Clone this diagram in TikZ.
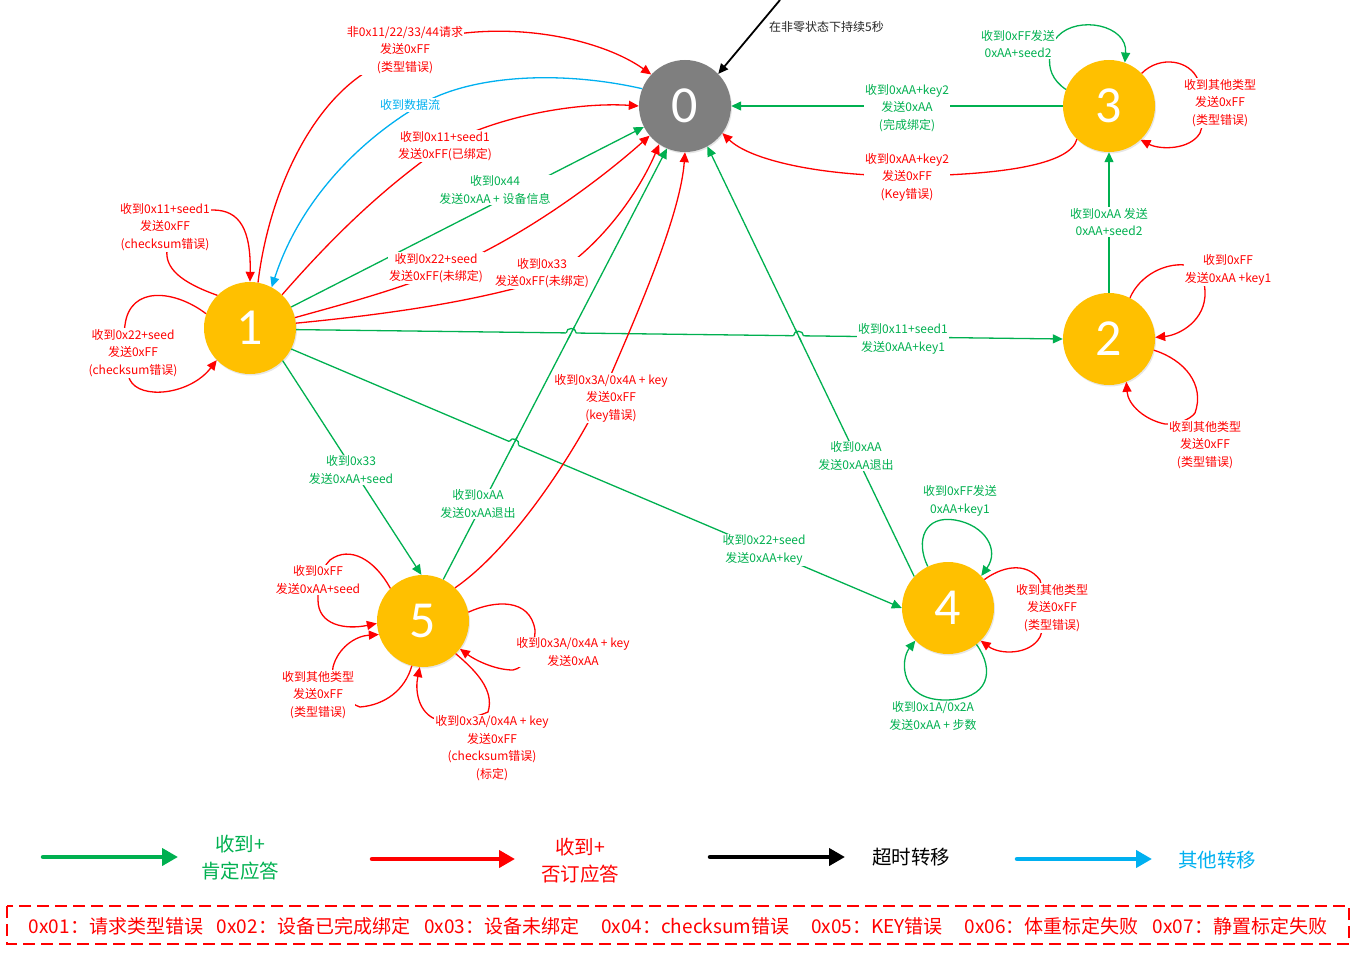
\documentclass[tikz,border=0pt]{standalone}
\usepackage{fontspec}
\setmainfont{Noto Sans CJK SC}
\newfontfamily\numfont{Carlito}
\usetikzlibrary{arrows.meta,shadows,calc,intersections}

\definecolor{cgreen}{RGB}{0,176,80}
\definecolor{cred}{RGB}{255,0,0}
\definecolor{cblue}{RGB}{0,176,240}
\definecolor{cgold}{RGB}{255,192,0}
\definecolor{cgrey}{RGB}{127,127,127}

\begin{document}
\begin{tikzpicture}[
    x=1pt, y=-1pt,
    statenode/.style={circle, fill=cgold, minimum size=92pt, inner sep=0pt, text=white,
        font=\numfont\fontsize{52}{52}\selectfont,
        drop shadow={shadow xshift=1pt, shadow yshift=-1.5pt, opacity=0.2}},
    idlenode/.style={statenode, fill=cgrey},
    okline/.style={draw=cgreen, line width=1.3pt, -{Triangle[length=10pt,width=9pt]}},
    ngline/.style={okline, draw=cred},
    otherline/.style={okline, draw=cblue},
    tmoline/.style={okline, draw=black, line width=1.8pt},
    hopline/.style={draw=cgreen, line width=1.3pt},
    oktext/.style={text=cgreen, font=\fontsize{12}{17.5}\selectfont, align=center, fill=white, inner sep=1pt},
    ngtext/.style={oktext, text=cred},
    legline/.style={line width=4.5pt, line cap=round, -{Triangle[length=16pt,width=17pt]}},
    legtext/.style={font=\fontsize{19.5}{27}\selectfont, align=center},
    ]

\useasboundingbox (0,0) rectangle (1355,955);

% States
\node[idlenode] (n0) at (685,106) {0};
\node[statenode] (n1) at (250,328) {1};
\node[statenode] (n2) at (1109,339) {2};
\node[statenode] (n3) at (1109,106) {3};
\node[statenode] (n4) at (948,608) {4};
\node[statenode] (n5) at (423,621) {5};

% From state 1 into state 0
\draw[ngline] (n1.80) .. controls (268,200) and (305,115) .. (360,76) .. controls (390,55) and (430,38) .. (465,33) .. controls (540,25) and (610,45) .. (n0.137);
\draw[otherline] (n0.158) .. controls (560,70) and (470,75) .. (420,105) .. controls (360,140) and (300,200) .. (n1.62);
\draw[ngline] (n1.46) .. controls (330,240) and (380,190) .. (445,145) .. controls (500,115) and (580,102) .. (n0.180);
\draw[okline] (n1.27) -- (n0.207);
\draw[ngline] (n1.13) .. controls (340,305) and (390,292) .. (440,272) .. controls (520,240) and (600,180) .. (n0.220);
\draw[ngline] (n1.6) .. controls (380,315) and (470,303) .. (545,280) .. controls (600,250) and (640,190) .. (n0.236);

% From state 1 to the others
\draw[okline, name path=e12] (n1.-2) -- (n2.180);
\draw[okline, name path=e14] (n1.-27) -- (n4.180);
\draw[okline] (n1.-45) -- (n5.92);

% Back to state 0
\draw[okline, name path=e50] (n5.64) -- (n0.247);
\draw[ngline] (n5.46) .. controls (510,550) and (570,460) .. (600,400) .. controls (630,330) and (680,220) .. (n0.270);
\draw[okline, name path=e40] (n4.137) -- (n0.299);
\draw[okline] (n3.180) -- (n0.0);
\draw[ngline] (n3.226) .. controls (1070,165) and (1000,175) .. (907,176) .. controls (820,176) and (750,160) .. (n0.324);
\coordinate (tmo) at (780,0);
\draw[tmoline] (tmo) -- (n0.44);
\draw[okline] (n2.90) -- (n3.270);

% Line hops
\path[name intersections={of=e12 and e50, by=j1}];
\path[name intersections={of=e12 and e40, by=j2}];
\path[name intersections={of=e14 and e50, by=j3}];
\draw[white, line width=3pt] ($(j1)!5pt!(n1.-2)$) -- ($(j1)!5pt!(n2.180)$);
\draw[white, line width=3pt] ($(j2)!5pt!(n1.-2)$) -- ($(j2)!5pt!(n2.180)$);
\draw[white, line width=3pt] ($(j3)!5pt!(n1.-27)$) -- ($(j3)!5pt!(n4.180)$);
\draw[hopline] ($(j1)!7pt!(n5.64)$) -- ($(j1)!7pt!(n0.247)$);
\draw[hopline] ($(j2)!7pt!(n4.137)$) -- ($(j2)!7pt!(n0.299)$);
\draw[hopline] ($(j3)!7pt!(n5.64)$) -- ($(j3)!7pt!(n0.247)$);
\draw[hopline] ($(j1)!5pt!(n1.-2)$) .. controls +(0,-6) and +(0,-6) .. ($(j1)!5pt!(n2.180)$);
\draw[hopline] ($(j2)!5pt!(n1.-2)$) .. controls +(0,-6) and +(0,-6) .. ($(j2)!5pt!(n2.180)$);
\draw[hopline] ($(j3)!5pt!(n1.-27)$) .. controls +(2.3,-5.5) and +(2.3,-5.5) .. ($(j3)!5pt!(n4.180)$);

% Self loops
\draw[ngline] (n1.135) .. controls (180,282) and (165,268) .. (167,250) .. controls (168,225) and (190,210) .. (213,210) .. controls (240,210) and (251,230) .. (n1.90);
\draw[ngline] (n1.162) .. controls (175,290) and (130,285) .. (125,325) .. controls (122,345) and (125,370) .. (130,380) .. controls (140,400) and (190,395) .. (n1.224);
\draw[okline] (n3.159) .. controls (1052,80) and (1048,68) .. (1050,55) .. controls (1052,45) and (1054,40) .. (1058,36) .. controls (1078,15) and (1128,25) .. (n3.70);
\draw[ngline] (n3.45) .. controls (1160,55) and (1190,60) .. (1198,80) .. controls (1205,100) and (1205,120) .. (1200,133) .. controls (1190,150) and (1160,150) .. (n3.-47);
\draw[ngline] (n2.63) .. controls (1140,275) and (1165,263) .. (1185,265) .. controls (1200,268) and (1205,280) .. (1205,292) .. controls (1206,320) and (1180,335) .. (n2.2);
\draw[ngline] (n2.-14) .. controls (1185,360) and (1205,385) .. (1195,413) .. controls (1190,420) and (1175,425) .. (1165,424) .. controls (1145,420) and (1128,405) .. (n2.-68);
\draw[okline] (n4.116) .. controls (915,540) and (925,515) .. (955,520) .. controls (985,525) and (1000,550) .. (n4.44);
\draw[ngline] (n4.38) .. controls (1000,568) and (1025,560) .. (1040,580) .. controls (1045,600) and (1045,625) .. (1040,637) .. controls (1030,655) and (1000,655) .. (n4.-45);
\draw[okline] (n4.-52) .. controls (995,670) and (990,700) .. (945,700) .. controls (900,700) and (900,660) .. (n4.-135);
\draw[ngline] (n5.135) .. controls (375,560) and (350,545) .. (330,560) .. controls (320,570) and (318,585) .. (318,600) .. controls (318,625) and (345,630) .. (n5.183);
\draw[ngline] (n5.256) .. controls (405,690) and (385,705) .. (360,707) .. controls (340,700) and (330,680) .. (333,667) .. controls (338,648) and (355,636) .. (n5.197);
\draw[ngline] (n5.11) .. controls (495,600) and (530,598) .. (535,630) .. controls (535,650) and (525,668) .. (513,670) .. controls (495,670) and (475,660) .. (n5.-37);
\draw[ngline] (n5.-45) .. controls (475,670) and (495,690) .. (488,712) .. controls (470,720) and (445,722) .. (433,718) .. controls (418,710) and (415,690) .. (n5.-94);

% Edge labels
\node[ngtext] (t01a) at (405,50) {非0x11/22/33/44请求\\发送0xFF\\(类型错误)};
\node[oktext, text=cblue] (t01b) at (410,105) {收到数据流};
\node[ngtext] (t01c) at (445,146) {收到0x11+seed1\\发送0xFF(已绑定)};
\node[oktext] (t01d) at (495,190) {收到0x44\\发送0xAA + 设备信息};
\node[ngtext] (t01e) at (436,268) {收到0x22+seed\\发送0xFF(未绑定)};
\node[ngtext] (t01f) at (542,273) {收到0x33\\发送0xFF(未绑定)};
\node[oktext] (t12) at (903,339) {收到0x11+seed1\\发送0xAA+key1};
\node[oktext] (t14) at (764,550) {收到0x22+seed\\发送0xAA+key};
\node[oktext] (t15) at (351,470) {收到0x33\\发送0xAA+seed};
\node[oktext] (t50a) at (478,504) {收到0xAA\\发送0xAA退出};
\node[ngtext] (t50b) at (611,398) {收到0x3A/0x4A + key\\发送0xFF\\(key错误)};
\node[oktext] (t40) at (856,456) {收到0xAA\\发送0xAA退出};
\node[oktext] (t30a) at (907,108) {收到0xAA+key2\\发送0xAA\\(完成绑定)};
\node[ngtext] (t30b) at (907,177) {收到0xAA+key2\\发送0xFF\\(Key错误)};
\node[oktext, text=black!85, anchor=west] (ttmo) at (768,27) {在非零状态下持续5秒};
\node[oktext] (t23) at (1109,222) {收到0xAA 发送\\0xAA+seed2};
\node[ngtext] (t11a) at (165,227) {收到0x11+seed1\\发送0xFF\\(checksum错误)};
\node[ngtext] (t11b) at (133,353) {收到0x22+seed\\发送0xFF\\(checksum错误)};
\node[oktext] (t33a) at (1018,44) {收到0xFF发送\\0xAA+seed2};
\node[ngtext] (t33b) at (1220,103) {收到其他类型\\发送0xFF\\(类型错误)};
\node[ngtext] (t22a) at (1228,270) {收到0xFF\\发送0xAA +key1};
\node[ngtext] (t22b) at (1205,445) {收到其他类型\\发送0xFF\\(类型错误)};
\node[oktext] (t44a) at (960,501) {收到0xFF发送\\0xAA+key1};
\node[ngtext] (t44b) at (1052,608) {收到其他类型\\发送0xFF\\(类型错误)};
\node[oktext] (t44c) at (933,716) {收到0x1A/0x2A\\发送0xAA + 步数};
\node[ngtext] (t55a) at (318,580) {收到0xFF\\发送0xAA+seed};
\node[ngtext] (t55b) at (318,695) {收到其他类型\\发送0xFF\\(类型错误)};
\node[ngtext] (t55c) at (573,652) {收到0x3A/0x4A + key\\发送0xAA};
\node[ngtext] (t55d) at (492,748) {收到0x3A/0x4A + key\\发送0xFF\\(checksum错误)\\(标定)};

% Legend
\coordinate (lgA) at (43,857);   \coordinate (lgB) at (178,857);
\coordinate (lgC) at (372,859);  \coordinate (lgD) at (515,859);
\coordinate (lgE) at (710,857);  \coordinate (lgF) at (845,857);
\coordinate (lgG) at (1017,859); \coordinate (lgH) at (1152,859);
\draw[legline, cgreen] (lgA) -- (lgB);
\draw[legline, cred] (lgC) -- (lgD);
\draw[legline, black] (lgE) -- (lgF);
\draw[legline, cblue] (lgG) -- (lgH);
\node[legtext, text=cgreen] (lok) at (240,858) {收到+\\肯定应答};
\node[legtext, text=cred] (lng) at (580,861) {收到+\\否订应答};
\node[legtext] (ltmo) at (911,857) {超时转移};
\node[legtext, text=cblue] (lother) at (1217,860) {其他转移};

% Error codes
\draw[cred, line width=1.3pt, dash pattern=on 12pt off 6pt] (7,906) rectangle (1349,944);
\node[legtext, text=cred, font=\fontsize{19}{24}\selectfont] (errs) at (678,926)
    {0x01：请求类型错误\hspace{14pt}0x02：设备已完成绑定\hspace{14pt}0x03：设备未绑定\hspace{22pt}0x04：checksum错误\hspace{22pt}0x05：KEY错误\hspace{22pt}0x06：体重标定失败\hspace{14pt}0x07：静置标定失败};

\end{tikzpicture}
\end{document}
